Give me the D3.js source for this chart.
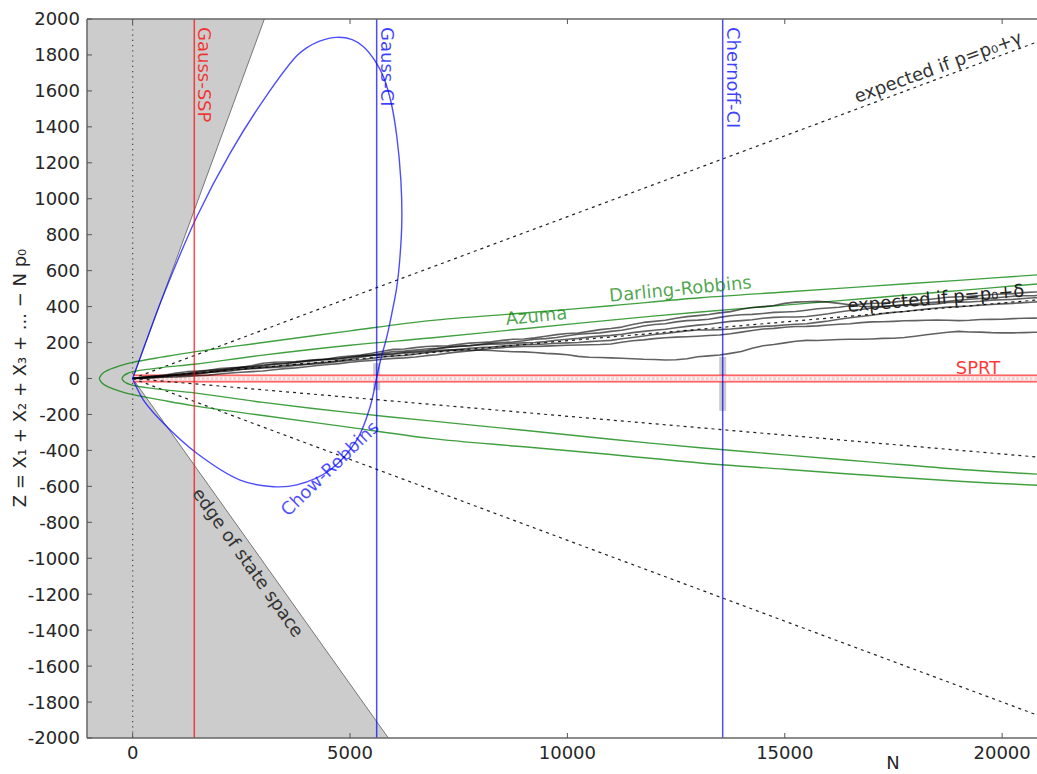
<!DOCTYPE html>
<html><head><meta charset="utf-8">
<script src="https://cdn.jsdelivr.net/npm/d3@7"></script>
<style>body{margin:0;background:#fff} text{font-family:"DejaVu Sans",sans-serif}</style>
</head><body><svg id="c" width="1037" height="774"></svg>
<script>
// ---------- data ----------
const xTicks = [0, 5000, 10000, 15000, 20000];
const yTicks = [-2000,-1800,-1600,-1400,-1200,-1000,-800,-600,-400,-200,0,200,400,600,800,1000,1200,1400,1600,1800,2000];
const stateSpaceN = [-1050, 3030, 0, 5882, -1050];
const stateSpaceZ = [2000, 2000, 0, -2000, -2000];
const edgeUpper = [[0,0],[3030,2000]];
const edgeLower = [[0,0],[5882,-2000]];
const gaussSSP = 1418, gaussCI = 5613, chernoffCI = 13572;
const gammaLineEnd = [[0,0],[21000,1890]];
const gammaLineLow = [[0,0],[21000,-1890]];
const deltaLineEnd = [[0,0],[21000,441]];
const deltaLineLow = [[0,0],[21000,-441]];
const sprtZ = [19, -19];
const chowN = [0,300,702,1476,2243,3009,3776,4000,4300,4697,5050,5309,5568,5768,5950,6077,6170,6192,6150,6077,5960,5847,5700,5617,5463,5157,4543,3776,3239,2473,1476,709,249,0];
const chowZ = [0,200,460,900,1254,1549,1795,1839,1877,1898,1885,1846,1770,1679,1530,1345,1100,882,680,511,360,233,100,10,-157,-342,-509,-592,-602,-565,-416,-249,-120,0];
const darlingN = [-770,-700,-550,-300,0,700,1414,3000,5000,6843,9000,11000,13053,15000,17000,19000,21000];
const darlingUp = [0,27,48,70,90,120,148,200,265,322,364,405,449,481,514,546,580];
const darlingLo = [0,-27,-48,-70,-90,-122,-152,-206,-272,-333,-380,-423,-470,-505,-540,-572,-596];
const azumaN = [-249,-200,-100,0,700,1414,3000,5000,6843,9000,11000,13053,15000,17000,19000,21000];
const azumaUp = [0,17,30,38,62,79,130,185,225,277,325,370,408,448,489,530];
const azumaLo = [0,-17,-30,-38,-62,-80,-133,-190,-236,-288,-338,-385,-425,-465,-505,-535];
const walkN = [0,250,500,750,1000,1250,1500,1750,2000,2250,2500,2750,3000,3250,3500,3750,4000,4250,4500,4750,
  5000,5250,5500,5750,6000,6250,6500,6750,7000,7250,7500,7750,8000,8250,8500,8750,9000,9250,9500,9750,
  10000,10250,10500,10750,11000,11250,11500,11750,12000,12250,12500,12750,13000,13250,13500,13750,14000,14250,14500,14750,
  15000,15250,15500,15750,16000,16250,16500,16750,17000,17250,17500,17750,18000,18250,18500,18750,19000,19250,19500,19750,
  20000,20250,20500,20750,21000];
const walkA = [0,3,10,18,22,27,38,45,48,52,62,66,75,80,82,90,95,100,110,120,125,130,140,152,162,164,172,178,180,182,190,197,200,204,212,218,220,226,235,244,250,253,262,272,278,286,300,312,318,324,335,344,350,356,365,372,385,395,400,406,418,425,427,429,425,418,410,402,400,400,405,410,410,411,415,423,425,426,430,436,438,440,445,449,450];
const walkB = [0,9,14,19,30,38,42,46,55,60,62,64,70,80,85,89,98,104,105,109,118,127,132,134,140,147,150,155,165,173,178,182,190,197,200,203,210,218,222,228,238,246,250,254,262,268,280,292,300,305,315,322,325,330,340,349,355,357,362,368,370,373,380,388,392,396,405,414,418,420,425,432,435,438,445,452,455,457,462,467,470,472,478,481,482];
const walkC = [0,2,6,11,14,18,25,33,38,42,50,57,62,66,72,77,80,87,92,99,108,118,128,141,150,153,158,164,168,175,180,183,188,191,192,196,198,200,205,213,218,223,230,236,240,246,255,262,268,274,282,290,297,302,310,318,322,327,335,340,342,342,345,352,360,370,378,384,392,400,405,408,415,421,425,429,435,441,445,447,452,458,460,461,464];
const walkD = [0,7,12,14,18,24,28,33,40,47,52,54,58,62,65,72,78,82,88,95,100,104,112,120,125,128,135,143,150,155,162,168,172,175,180,185,188,189,192,196,198,200,205,209,212,221,228,236,245,250,258,265,270,270,272,275,280,286,290,293,298,302,305,312,320,330,338,345,352,361,368,373,380,386,392,397,400,403,408,412,415,418,422,426,428];
const walkE = [0,1,4,7,8,12,15,19,25,31,35,38,42,49,55,59,65,72,78,83,90,96,100,107,112,115,120,127,132,141,148,153,160,167,172,176,178,178,180,183,185,186,188,189,192,202,210,215,222,227,230,232,235,239,242,249,258,267,275,279,285,289,290,293,298,302,305,311,315,316,318,321,322,324,325,324,322,324,328,329,330,333,335,336,338];
const walkF = [0,5,8,13,20,27,32,37,45,55,62,72,85,90,92,95,100,105,108,112,118,124,128,131,135,141,145,149,155,159,160,157,158,156,152,149,148,145,140,137,132,123,118,117,115,113,110,107,106,103,104,110,121,126,131,140,150,168,182,189,198,207,212,211,214,217,218,218,220,223,224,228,235,243,250,257,262,259,258,255,254,254,255,257,258];
const stopBars = [{n:5613, z0:-65, z1:85}, {n:13572, z0:-180, z1:120}];

// ---------- scales ----------
const svg = d3.select('#c');
const L = 87, T = 19, B = 738;
const x = d3.scaleLinear().domain([-1050, 21000]).range([L, L + 22050*0.043475]);
const y = d3.scaleLinear().domain([-2000, 2000]).range([B, T]);
const R = x(21000);

svg.append('clipPath').attr('id','clip').append('rect')
  .attr('x', L).attr('y', T).attr('width', R - L).attr('height', B - T);
const g = svg.append('g').attr('clip-path','url(#clip)');
const line = d3.line().x(d=>x(d[0])).y(d=>y(d[1]));

// state space gray region
g.append('path').datum(stateSpaceN.map((n,i)=>[n,stateSpaceZ[i]]))
  .attr('d', line).attr('fill','#cccccc').attr('stroke','none');
[edgeUpper, edgeLower].forEach(e=>g.append('path').datum(e).attr('d',line)
  .attr('stroke','#777').attr('stroke-width',1).attr('fill','none'));

// dotted zero line
g.append('line').attr('x1',x(0)).attr('x2',x(0)).attr('y1',T).attr('y2',B)
  .attr('stroke','#444').attr('stroke-width',1.2).attr('stroke-dasharray','1.2,4');

// stopping bars
stopBars.forEach(s=>g.append('rect').attr('x',x(s.n)-3.5).attr('width',7)
  .attr('y',y(s.z1)).attr('height',y(s.z0)-y(s.z1)).attr('fill','#bbbbbb').attr('opacity',0.75));

// SPRT band
g.append('rect').attr('x',x(0)).attr('width',R-x(0)).attr('y',y(sprtZ[0])).attr('height',y(sprtZ[1])-y(sprtZ[0]))
  .attr('fill','#fbd0d0');
g.append('line').attr('x1',x(0)).attr('x2',R).attr('y1',y(0)).attr('y2',y(0))
  .attr('stroke','#fff').attr('stroke-width',3).attr('stroke-dasharray','1.5,3');
sprtZ.forEach(z=>g.append('line').attr('x1',x(0)).attr('x2',R).attr('y1',y(z)).attr('y2',y(z))
  .attr('stroke','#ff0000').attr('stroke-opacity',0.7).attr('stroke-width',1.3));

// expected lines
[gammaLineEnd,gammaLineLow,deltaLineEnd,deltaLineLow].forEach(e=>g.append('path').datum(e).attr('d',line)
  .attr('stroke','#222').attr('stroke-width',1.2).attr('stroke-dasharray','3,4').attr('fill','none'));

// green bounds
const curveLine = d3.line().x(d=>x(d[0])).y(d=>y(d[1])).curve(d3.curveCatmullRom.alpha(0.5));
function arm(ns, zs){ return ns.map((n,i)=>[n,zs[i]]); }
[[darlingN,darlingUp],[darlingN,darlingLo],[azumaN,azumaUp],[azumaN,azumaLo]].forEach(([ns,zs])=>
  g.append('path').datum(arm(ns,zs)).attr('d',curveLine).attr('fill','none')
   .attr('stroke','#008000').attr('stroke-opacity',0.75).attr('stroke-width',1.4));

// random walks
[walkA,walkB,walkC,walkD,walkE,walkF].forEach(w=>g.append('path').datum(walkN.map((n,i)=>[n,w[i]]))
  .attr('d',line).attr('fill','none').attr('stroke','#000').attr('stroke-opacity',0.62)
  .attr('stroke-width',1.6).attr('stroke-linejoin','round'));

// Chow-Robbins
g.append('path').datum(chowN.map((n,i)=>[n,chowZ[i]])).attr('d',curveLine).attr('fill','none')
  .attr('stroke','#0000ff').attr('stroke-opacity',0.7).attr('stroke-width',1.4);

// vertical lines
[[gaussSSP,'#ff0000'],[gaussCI,'#0000ff'],[chernoffCI,'#0000ff']].forEach(([n,c])=>
  g.append('line').attr('x1',x(n)).attr('x2',x(n)).attr('y1',T).attr('y2',B)
   .attr('stroke',c).attr('stroke-opacity',0.7).attr('stroke-width',1.5));

// ---------- labels ----------
function lab(txt, px, py, rot, col, anchor, op){
  svg.append('text').attr('transform',`translate(${px},${py}) rotate(${rot})`)
   .attr('text-anchor',anchor||'start').attr('fill',col).attr('fill-opacity',op==null?1:op)
   .attr('font-size',18).text(txt);
}
lab('Gauss-SSP', x(gaussSSP)+4, 27, 90, '#ff0000', 'start', 0.75);
lab('Gauss-CI', x(gaussCI)+4, 27, 90, '#0000ff', 'start', 0.75);
lab('Chernoff-CI', x(chernoffCI)+4, 27, 90, '#0000ff', 'start', 0.75);
lab('Chow-Robbins', 334, 473, -44, '#0000ff', 'middle', 0.7);
lab('edge of state space', 243, 566, 54.6, '#333', 'middle');
lab('Azuma', 537, 322, -5.7, '#008000', 'middle', 0.7);
lab('Darling-Robbins', 681, 295, -5.5, '#008000', 'middle', 0.7);
lab('expected if p=p₀+δ', 848, 312, -5, '#222', 'start');
lab('expected if p=p₀+γ', 857, 103, -20, '#333', 'start');
lab('SPRT', 978, 374, 0, '#ff0000', 'middle', 0.8);

// ---------- axes ----------
const ax = svg.append('g');
ax.append('line').attr('x1',L).attr('x2',L).attr('y1',T).attr('y2',B).attr('stroke','#666').attr('stroke-width',1.5);
ax.append('line').attr('x1',L).attr('x2',1037).attr('y1',T).attr('y2',T).attr('stroke','#666').attr('stroke-width',1.5);
ax.append('line').attr('x1',L).attr('x2',1037).attr('y1',B).attr('y2',B).attr('stroke','#666').attr('stroke-width',1.5);
yTicks.forEach(v=>{
  ax.append('line').attr('x1',L).attr('x2',L+5).attr('y1',y(v)).attr('y2',y(v)).attr('stroke','#555');
  ax.append('text').attr('x',80).attr('y',y(v)).attr('dy','0.36em').attr('text-anchor','end')
    .attr('font-size',18).attr('fill','#262626').text(v);
});
xTicks.forEach(v=>{
  ax.append('line').attr('x1',x(v)).attr('x2',x(v)).attr('y1',B).attr('y2',B-5).attr('stroke','#555');
  ax.append('line').attr('x1',x(v)).attr('x2',x(v)).attr('y1',T).attr('y2',T+5).attr('stroke','#555');
  ax.append('text').attr('x',x(v)).attr('y',759).attr('text-anchor','middle')
    .attr('font-size',18).attr('fill','#262626').text(v);
});
svg.append('text').attr('x',893).attr('y',769).attr('text-anchor','middle').attr('font-size',18).attr('fill','#262626').text('N');
svg.append('text').attr('transform','translate(26,378) rotate(-90)').attr('text-anchor','middle')
  .attr('font-size',18).attr('fill','#262626').text('Z = X₁ + X₂ + X₃ + ... − N p₀');
</script></body></html>
